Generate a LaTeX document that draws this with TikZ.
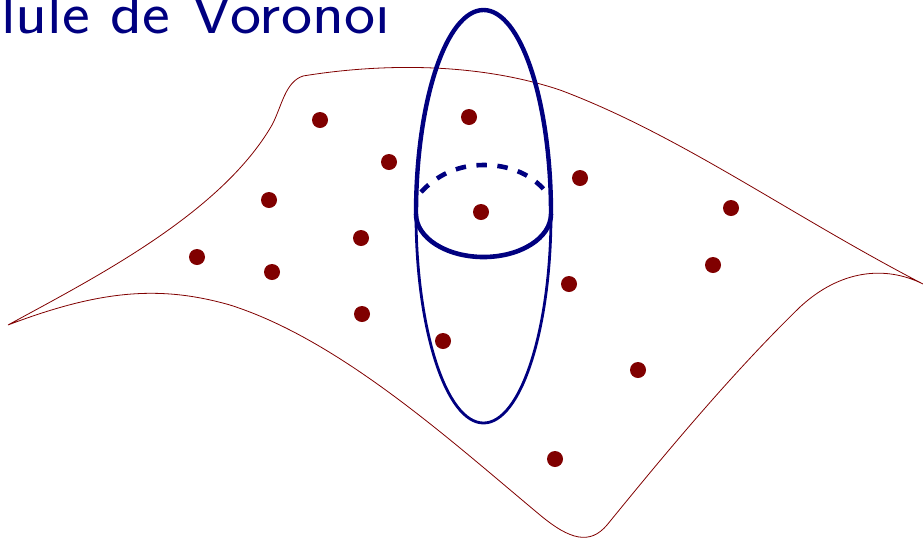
\documentclass[tikz,border=0pt]{standalone}
\usepackage{xcolor}
\usepackage{tikz}
\definecolor{sitecol}{rgb}{0.5,0,0}
\definecolor{cellcol}{rgb}{0,0,0.5}
\tikzset{site/.style={circle,fill=sitecol,inner sep=0pt,minimum size=16pt}}
\begin{document}
\begin{tikzpicture}[x=1pt,y=-1pt]
\useasboundingbox[clip] (0,0) rectangle (923,539);
% surface outline
\draw[sitecol,line width=0.8pt] (8,325) .. controls (90,280) and (220,215) .. (272,125)
  .. controls (282,106) and (285,82) .. (303,76)
  .. controls (370,65) and (470,60) .. (560,90)
  .. controls (680,135) and (790,215) .. (923,284)
  .. controls (885,265) and (840,270) .. (800,307)
  .. controls (730,375) and (660,460) .. (607,525)
  .. controls (590,545) and (570,540) .. (540,515)
  .. controls (450,440) and (340,340) .. (230,305)
  .. controls (160,285) and (100,290) .. (8,325) -- cycle;
% sites
\foreach \px/\py [count=\i] in {320/120,469/117,389/162,580/178,269/200,481/212,731/208,361/238,197/257,272/272,713/265,569/284,362/314,443/341,638/370,555/459}{
  \node[site] (s\i) at (\px,\py) {};
}
% cell
\draw[cellcol,line width=2.8pt] (416,214) arc[start angle=180,end angle=0,x radius=67.5,y radius=209];
\draw[cellcol,line width=4.4pt] (416,214) arc[start angle=180,end angle=360,x radius=67.5,y radius=204];
\draw[cellcol,line width=4.6pt] (416,214) arc[start angle=180,end angle=0,x radius=67.5,y radius=43];
\draw[cellcol,line width=4.6pt,dash pattern=on 10.5pt off 10.5pt] (421,192) .. controls (440,172) and (462,165) .. (484,165) .. controls (506,165) and (530,172) .. (546,192);
\node[cellcol,anchor=base west,font=\sffamily\fontsize{60}{60}\selectfont,inner sep=0pt,xscale=1.1,transform shape] (title) at (1,33) {lule de Vorono\i};
\end{tikzpicture}
\end{document}
